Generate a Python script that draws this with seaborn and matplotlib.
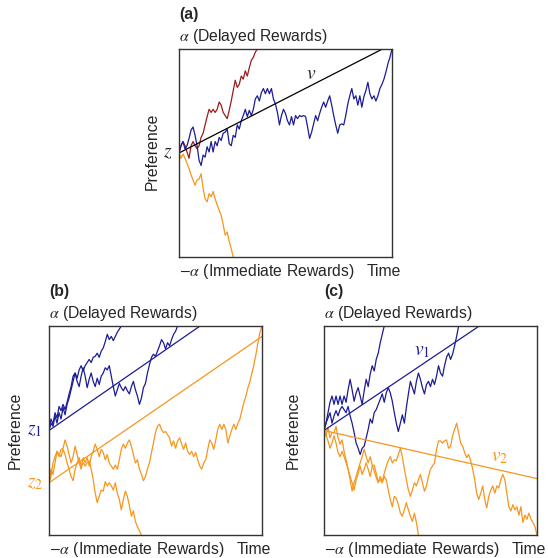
import numpy as np
import pandas as pd
import seaborn as sns
import matplotlib.pyplot as plt

# colours
BLUE = '#1c1c96'
RED = '#9b1c1c'
ORANGE = '#f7961e'

# preference walks (threshold a = 1), one value per time step
a_blue = [0.0, 0.07, 0.11, 0.04, 0.07, 0.14, 0.22, 0.25, 0.17, 0.07, -0.07, -0.12, -0.02, -0.04, 0.06, 0.01,
          0.11, 0.01, 0.11, 0.07, 0.15, 0.12, 0.19, 0.20, 0.23, 0.09, 0.07, 0.17, 0.15, 0.27, 0.23, 0.31,
          0.36, 0.42, 0.35, 0.41, 0.36, 0.42, 0.52, 0.55, 0.50, 0.58, 0.62, 0.57, 0.62, 0.57, 0.62, 0.52,
          0.47, 0.39, 0.27, 0.36, 0.42, 0.38, 0.31, 0.27, 0.35, 0.27, 0.36, 0.33, 0.36, 0.35, 0.36, 0.35,
          0.25, 0.14, 0.20, 0.28, 0.36, 0.31, 0.38, 0.44, 0.49, 0.44, 0.50, 0.55, 0.46, 0.36, 0.27, 0.19,
          0.27, 0.28, 0.27, 0.36, 0.47, 0.55, 0.62, 0.52, 0.55, 0.46, 0.55, 0.44, 0.54, 0.60, 0.68, 0.57,
          0.52, 0.55, 0.50, 0.55, 0.62, 0.66, 0.71, 0.78, 0.86, 0.92, 1.0]
a_red = [0.0, 0.07, 0.11, 0.07, 0.01, -0.05, 0.07, 0.11, 0.07, 0.04, 0.07, 0.15, 0.19, 0.27, 0.35, 0.42,
         0.39, 0.42, 0.39, 0.42, 0.49, 0.46, 0.39, 0.36, 0.33, 0.41, 0.50, 0.60, 0.70, 0.63, 0.66, 0.74,
         0.71, 0.79, 0.74, 0.82, 0.89, 0.92, 0.97, 1.0]
a_orange = [0.0, -0.05, -0.01, -0.05, -0.10, -0.15, -0.21, -0.26, -0.31, -0.26, -0.25, -0.20, -0.34, -0.44,
            -0.47, -0.39, -0.42, -0.37, -0.44, -0.50, -0.55, -0.60, -0.69, -0.79, -0.76, -0.85, -0.92, -1.0]

b_blue1 = [0.0, 0.07, 0.04, 0.14, 0.07, 0.17, 0.11, 0.22, 0.15, 0.25, 0.31, 0.39, 0.47, 0.55, 0.50, 0.58,
           0.62, 0.57, 0.62, 0.65, 0.68, 0.65, 0.70, 0.71, 0.74, 0.70, 0.76, 0.79, 0.85, 0.92, 0.87, 0.90,
           0.86, 0.90, 0.94, 0.97, 1.0]
b_blue2 = [0.0, 0.11, 0.06, 0.17, 0.12, 0.23, 0.19, 0.25, 0.20, 0.27, 0.35, 0.42, 0.52, 0.55, 0.47, 0.42,
           0.52, 0.60, 0.52, 0.41, 0.49, 0.55, 0.47, 0.42, 0.50, 0.44, 0.52, 0.55, 0.60, 0.58, 0.62, 0.52,
           0.42, 0.33, 0.39, 0.45, 0.41, 0.38, 0.42, 0.38, 0.35, 0.42, 0.47, 0.39, 0.33, 0.25, 0.31, 0.41,
           0.45, 0.55, 0.63, 0.70, 0.73, 0.71, 0.76, 0.81, 0.87, 0.84, 0.78, 0.84, 0.81, 0.87, 0.92, 0.95, 1.0]
b_orange1 = [-0.50, -0.37, -0.42, -0.31, -0.20, -0.25, -0.18, -0.17, -0.09, -0.15, -0.23, -0.31, -0.25, -0.15,
             -0.23, -0.31, -0.37, -0.26, -0.31, -0.26, -0.34, -0.25, -0.20, -0.13, -0.18, -0.25, -0.18, -0.21,
             -0.28, -0.23, -0.31, -0.34, -0.37, -0.33, -0.37, -0.28, -0.18, -0.13, -0.17, -0.12, -0.09, -0.15,
             -0.23, -0.31, -0.28, -0.37, -0.42, -0.48, -0.44, -0.37, -0.31, -0.21, -0.12, -0.02, 0.04, 0.06,
             0.01, -0.02, -0.01, -0.04, -0.07, -0.15, -0.10, -0.17, -0.10, -0.07, -0.13, -0.18, -0.12, -0.20,
             -0.23, -0.20, -0.25, -0.21, -0.28, -0.34, -0.37, -0.31, -0.28, -0.18, -0.09, -0.12, -0.18, -0.09,
             0.01, 0.06, 0.01, 0.06, 0.01, -0.12, -0.05, 0.01, 0.06, 0.01, 0.07, 0.11, 0.19, 0.27, 0.33, 0.41,
             0.47, 0.55, 0.63, 0.73, 0.84, 0.94, 1.0]
b_orange2 = [-0.50, -0.44, -0.31, -0.25, -0.20, -0.23, -0.25, -0.18, -0.23, -0.31, -0.37, -0.44, -0.48, -0.37,
             -0.31, -0.26, -0.34, -0.31, -0.34, -0.31, -0.29, -0.37, -0.47, -0.60, -0.69, -0.63, -0.57, -0.58,
             -0.49, -0.53, -0.50, -0.53, -0.57, -0.50, -0.60, -0.66, -0.76, -0.66, -0.58, -0.63, -0.72, -0.82,
             -0.77, -0.87, -0.92, -0.96, -1.0]

c_blue1 = [0.0, 0.07, 0.17, 0.27, 0.33, 0.25, 0.33, 0.25, 0.33, 0.25, 0.33, 0.27, 0.39, 0.49, 0.39, 0.28,
           0.36, 0.41, 0.33, 0.25, 0.38, 0.49, 0.42, 0.54, 0.62, 0.57, 0.68, 0.74, 0.84, 0.92, 1.0]
c_blue2 = [0.0, 0.07, 0.12, 0.17, 0.07, 0.14, 0.19, 0.14, 0.20, 0.23, 0.20, 0.17, 0.23, 0.14, 0.07, -0.02,
           -0.12, -0.17, -0.23, -0.17, -0.15, -0.07, 0.01, 0.11, 0.07, 0.17, 0.20, 0.25, 0.30, 0.35, 0.27,
           0.36, 0.41, 0.36, 0.28, 0.17, 0.07, -0.01, 0.07, 0.15, 0.07, 0.22, 0.35, 0.47, 0.41, 0.35, 0.47,
           0.55, 0.49, 0.41, 0.35, 0.44, 0.47, 0.42, 0.49, 0.44, 0.52, 0.62, 0.55, 0.52, 0.62, 0.70, 0.74,
           0.68, 0.73, 0.81, 0.90, 1.0]
c_orange1 = [0.0, -0.05, 0.03, -0.07, -0.02, -0.02, 0.04, -0.07, -0.13, -0.09, -0.20, -0.28, -0.37, -0.47,
             -0.58, -0.50, -0.44, -0.37, -0.31, -0.25, -0.18, -0.25, -0.31, -0.25, -0.33, -0.39, -0.45, -0.50,
             -0.44, -0.49, -0.41, -0.34, -0.29, -0.25, -0.31, -0.28, -0.29, -0.23, -0.17, -0.25, -0.37, -0.47,
             -0.57, -0.63, -0.57, -0.50, -0.53, -0.47, -0.42, -0.50, -0.58, -0.53, -0.44, -0.37, -0.34, -0.31,
             -0.18, -0.10, -0.10, -0.12, -0.10, -0.09, -0.17, -0.15, -0.05, 0.01, 0.07, -0.02, -0.12, -0.15,
             -0.21, -0.26, -0.23, -0.29, -0.37, -0.47, -0.60, -0.66, -0.60, -0.53, -0.66, -0.74, -0.63, -0.57,
             -0.53, -0.60, -0.53, -0.55, -0.47, -0.42, -0.47, -0.60, -0.73, -0.77, -0.71, -0.76, -0.73, -0.81,
             -0.73, -0.88, -0.81, -0.85, -0.79, -0.85, -0.88, -0.92, -1.0]
c_orange2 = [0.0, -0.04, -0.10, -0.17, -0.12, -0.05, -0.12, -0.21, -0.25, -0.20, -0.25, -0.31, -0.37, -0.44,
             -0.50, -0.57, -0.47, -0.41, -0.34, -0.42, -0.37, -0.31, -0.37, -0.44, -0.34, -0.33, -0.41, -0.49,
             -0.47, -0.50, -0.44, -0.47, -0.57, -0.66, -0.73, -0.63, -0.65, -0.71, -0.79, -0.82, -0.76, -0.69,
             -0.76, -0.82, -0.87, -0.79, -0.88, -1.0]

# drift lines: (time, preference) end points
v_a = ([0, 101.3], [0.0, 1.0])
v_b1 = ([0, 75.2], [0.0, 1.0])
v_b2 = ([0, 106], [-0.5, 0.9])
v_c1 = ([0, 77.3], [0.0, 1.0])
v_c2 = ([0, 106], [0.0, -0.46])

T_MAX = 106
FS = 11.3

sns.set_style("white")
plt.rcParams['font.family'] = ['Liberation Sans', 'DejaVu Sans']
plt.rcParams['mathtext.fontset'] = 'stix'

fig = plt.figure(figsize=(5.48, 5.58), dpi=100)
ax_a = fig.add_axes([0.3266, 0.5394, 0.3887, 0.3728])
ax_b = fig.add_axes([0.0894, 0.0412, 0.3887, 0.3746])
ax_c = fig.add_axes([0.5912, 0.0412, 0.3887, 0.3746])


def walk(ax, vals, color):
    sns.lineplot(x=np.arange(len(vals)), y=vals, color=color, lw=0.9, ax=ax)


def drift(ax, line, color):
    sns.lineplot(x=line[0], y=line[1], color=color, lw=0.9, ax=ax)


walk(ax_a, a_red, RED)
walk(ax_a, a_orange, ORANGE)
walk(ax_a, a_blue, BLUE)
drift(ax_a, v_a, 'black')

walk(ax_b, b_blue1, BLUE)
walk(ax_b, b_blue2, BLUE)
walk(ax_b, b_orange1, ORANGE)
walk(ax_b, b_orange2, ORANGE)
drift(ax_b, v_b1, BLUE)
drift(ax_b, v_b2, ORANGE)

walk(ax_c, c_blue1, BLUE)
walk(ax_c, c_blue2, BLUE)
walk(ax_c, c_orange1, ORANGE)
walk(ax_c, c_orange2, ORANGE)
drift(ax_c, v_c1, BLUE)
drift(ax_c, v_c2, ORANGE)

for ax, tag in [(ax_a, '(a)'), (ax_b, '(b)'), (ax_c, '(c)')]:
    ax.set_xlim(0, T_MAX)
    ax.set_ylim(-1, 1)
    ax.set_xticks([])
    ax.set_yticks([])
    ax.set_xlabel('')
    ax.set_ylabel('')
    for s in ax.spines.values():
        s.set_color('#333333')
        s.set_linewidth(1.0)
    tr = ax.transAxes
    ax.text(0.0, 1.165, tag, transform=tr, fontsize=FS, fontweight='bold', ha='left', va='center')
    ax.text(0.0, 1.06, r'$\alpha$ (Delayed Rewards)', transform=tr, fontsize=FS, ha='left', va='center')
    ax.text(0.0, -0.068, r'$-\alpha$ (Immediate Rewards)', transform=tr, fontsize=FS, ha='left', va='center')
    ax.text(0.88, -0.068, 'Time', transform=tr, fontsize=FS, ha='left', va='center')

ax_a.text(-0.125, 0.51, 'Preference', transform=ax_a.transAxes, rotation=90, fontsize=FS, ha='center', va='center')
ax_b.text(-0.16, 0.5, 'Preference', transform=ax_b.transAxes, rotation=90, fontsize=FS, ha='center', va='center')
ax_c.text(-0.146, 0.5, 'Preference', transform=ax_c.transAxes, rotation=90, fontsize=FS, ha='center', va='center')

ax_a.text(-0.052, 0.5, r'$z$', transform=ax_a.transAxes, fontsize=14, ha='center', va='center')
ax_a.text(0.62, 0.875, r'$v$', transform=ax_a.transAxes, fontsize=14, ha='center', va='center')
ax_b.text(-0.066, 0.5, r'$z_1$', transform=ax_b.transAxes, fontsize=14, color=BLUE, ha='center', va='center')
ax_b.text(-0.066, 0.245, r'$z_2$', transform=ax_b.transAxes, fontsize=14, color=ORANGE, ha='center', va='center')
ax_c.text(0.46, 0.88, r'$v_1$', transform=ax_c.transAxes, fontsize=14, color=BLUE, ha='center', va='center')
ax_c.text(0.826, 0.373, r'$v_2$', transform=ax_c.transAxes, fontsize=14, color=ORANGE, ha='center', va='center')

fig.savefig('out.png', dpi=100)
